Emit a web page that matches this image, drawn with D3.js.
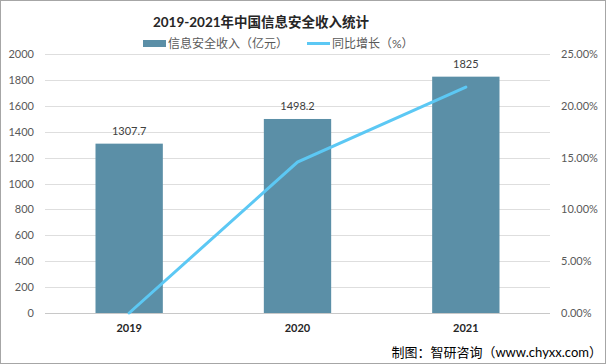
<!DOCTYPE html>
<html><head><meta charset="utf-8">
<script src="https://cdn.jsdelivr.net/npm/d3@7"></script>
<style>
body{margin:0;background:#fff;}
text{font-family:Lato,"Noto Sans CJK SC",sans-serif;}
</style></head>
<body><svg id="c" width="606" height="364"></svg>
<script>
const years = ["2019","2020","2021"];
const revenue = [1307.7, 1498.2, 1825];
const growth = [0, 14.57, 21.81];
const leftTicks = [0,200,400,600,800,1000,1200,1400,1600,1800,2000];
const rightTicks = [0,5,10,15,20,25];

const svg = d3.select("#c");
const W=606,H=364;
const m={l:45,r:550,t:54,b:313};
svg.append("rect").attr("x",0.5).attr("y",0.5).attr("width",W-1).attr("height",H-1)
  .attr("fill","#fff").attr("stroke","#a6a6a6");

const x = d3.scaleBand().domain(years).range([m.l,m.r]).paddingInner(0.6).paddingOuter(0.3);
const yL = d3.scaleLinear().domain([0,2000]).range([m.b,m.t]);
const yR = d3.scaleLinear().domain([0,25]).range([m.b,m.t]);

// gridlines
svg.append("g").selectAll("line").data(leftTicks).join("line")
  .attr("x1",m.l).attr("x2",m.r)
  .attr("y1",d=>Math.round(yL(d))+0.5).attr("y2",d=>Math.round(yL(d))+0.5)
  .attr("stroke",d=>d===0?"#c8c8c8":"#dedede").attr("stroke-width",1);

// left axis
const gl = svg.append("g").attr("transform",`translate(${m.l},0)`)
  .call(d3.axisLeft(yL).tickValues(leftTicks).tickSize(0).tickPadding(11).tickFormat(d3.format("d")));
gl.select(".domain").remove();
gl.selectAll("text").attr("fill","#595959").style("font-size","11px");

// right axis
const gr = svg.append("g").attr("transform",`translate(${m.r},0)`)
  .call(d3.axisRight(yR).tickValues(rightTicks).tickSize(0).tickPadding(11).tickFormat(d=>d.toFixed(2)+"%"));
gr.select(".domain").remove();
gr.selectAll("text").attr("fill","#595959").style("font-size","11px");

// x axis
const gx = svg.append("g").attr("transform",`translate(0,${m.b})`)
  .call(d3.axisBottom(x).tickSize(0).tickPadding(11));
gx.select(".domain").remove();
gx.selectAll("text").attr("fill","#262626").style("font-size","11px").style("font-weight","bold");

// bars
svg.append("g").selectAll("rect").data(years).join("rect")
  .attr("x",d=>x(d)).attr("width",x.bandwidth())
  .attr("y",(d,i)=>yL(revenue[i])).attr("height",(d,i)=>m.b-yL(revenue[i]))
  .attr("fill","#5b8fa7");

// bar labels
svg.append("g").selectAll("text").data(years).join("text")
  .attr("x",d=>x(d)+x.bandwidth()/2).attr("y",(d,i)=>yL(revenue[i])-9)
  .attr("text-anchor","middle").attr("fill","#404040").style("font-size","11px")
  .text((d,i)=>revenue[i]);

// line
const line = d3.line().x((d,i)=>x(years[i])+x.bandwidth()/2).y(d=>yR(d));
svg.append("path").datum(growth).attr("d",line)
  .attr("fill","none").attr("stroke","#5cc8f4").attr("stroke-width",3).attr("stroke-linecap","round");

// title
svg.append("text").attr("x",261).attr("y",27).attr("text-anchor","middle")
  .attr("fill","#262626").style("font-size","13.5px").style("font-weight","bold")
  .text("2019-2021年中国信息安全收入统计");

// legend
svg.append("rect").attr("x",143).attr("y",40).attr("width",23).attr("height",7).attr("fill","#5b8fa7");
svg.append("text").attr("x",168).attr("y",48).attr("fill","#595959").style("font-size","12px").text("信息安全收入（亿元）");
svg.append("line").attr("x1",307).attr("x2",330).attr("y1",43.5).attr("y2",43.5).attr("stroke","#5cc8f4").attr("stroke-width",3);
svg.append("text").attr("x",332).attr("y",48).attr("fill","#595959").style("font-size","12px").text("同比增长（%）");

// footer
svg.append("text").attr("x",602).attr("y",357).attr("text-anchor","end")
  .attr("fill","#000").style("font-size","13px").text("制图：智研咨询（www.chyxx.com）");
</script></body></html>
